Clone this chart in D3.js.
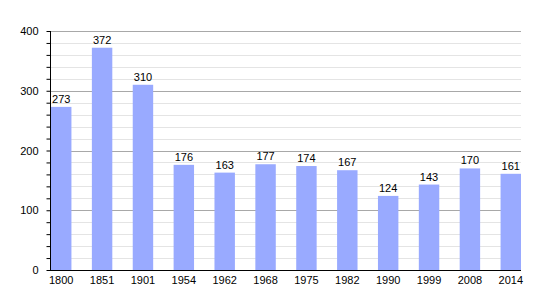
<!DOCTYPE html>
<html lang="en">
<head>
    <meta charset="UTF-8">
    <script src="https://d3js.org/d3.v7.min.js"></script>
    <title>Population</title>
    <style>
        body { margin: 0; background: white; }
        text { font-family: "Liberation Sans", Arial, sans-serif; font-size: 11px; fill: #000; }
    </style>
</head>
<body>
    <div class="fig"></div>
    <script>
        const years = ["1800", "1851", "1901", "1954", "1962", "1968", "1975", "1982", "1990", "1999", "2008", "2014"];
        const population = [273, 372, 310, 176, 163, 177, 174, 167, 124, 143, 170, 161];
        const yTicks = [0, 100, 200, 300, 400];

        const width = 550, height = 300;
        const plot = { left: 50, right: 521, top: 31, bottom: 270 };

        const svg = d3.select(".fig").append("svg")
            .attr("width", width)
            .attr("height", height);

        const y = d3.scaleLinear().domain([0, 400]).range([plot.bottom, plot.top]);
        const x = d3.scaleBand().domain(years).range([plot.left + 1, plot.right])
            .paddingInner(0.5).paddingOuter(0);

        // minor grid every 20
        const minor = d3.range(20, 401, 20).filter(v => v % 100 != 0);
        svg.append("g").selectAll("line")
            .data(minor)
            .enter().append("line")
            .attr("x1", plot.left).attr("x2", plot.right)
            .attr("y1", d => Math.round(y(d)) + 0.5).attr("y2", d => Math.round(y(d)) + 0.5)
            .attr("stroke", "#e4e4e4");

        svg.append("g").selectAll("line")
            .data(yTicks.slice(1))
            .enter().append("line")
            .attr("x1", plot.left).attr("x2", plot.right)
            .attr("y1", d => Math.round(y(d)) + 0.5).attr("y2", d => Math.round(y(d)) + 0.5)
            .attr("stroke", "#a8a8a8");

        // bars
        svg.append("g").selectAll("rect")
            .data(population)
            .enter().append("rect")
            .attr("x", (d, i) => x(years[i]))
            .attr("width", x.bandwidth())
            .attr("y", d => y(d))
            .attr("height", d => plot.bottom - y(d))
            .attr("fill", "#99aaff");

        svg.append("g").selectAll("text")
            .data(population)
            .enter().append("text")
            .attr("x", (d, i) => x(years[i]) + x.bandwidth() / 2)
            .attr("y", d => y(d) - 4)
            .attr("text-anchor", "middle")
            .text(d => d);

        // y axis with minor ticks
        const yAxis = d3.axisLeft(y).tickValues(d3.range(0, 401, 20)).tickSize(4)
            .tickFormat(d => yTicks.includes(d) ? d : "").tickPadding(8);
        const gy = svg.append("g").attr("transform", `translate(${plot.left + 0.5},0)`).call(yAxis);
        gy.select(".domain").remove();
        gy.selectAll("text").style("font-family", "Liberation Sans, Arial, sans-serif").style("font-size", "11px");
        svg.append("line")
            .attr("x1", plot.left + 0.5).attr("x2", plot.left + 0.5)
            .attr("y1", plot.top).attr("y2", plot.bottom + 1)
            .attr("stroke", "#000");

        const xAxis = d3.axisBottom(x).tickSize(0).tickPadding(6);
        const gx = svg.append("g").attr("transform", `translate(0,${plot.bottom + 0.5})`).call(xAxis);
        gx.select(".domain").remove();
        gx.selectAll("text").style("font-family", "Liberation Sans, Arial, sans-serif").style("font-size", "11px");
        svg.append("line")
            .attr("x1", plot.left).attr("x2", plot.right)
            .attr("y1", plot.bottom + 0.5).attr("y2", plot.bottom + 0.5)
            .attr("stroke", "#000");
    </script>
</body>
</html>
